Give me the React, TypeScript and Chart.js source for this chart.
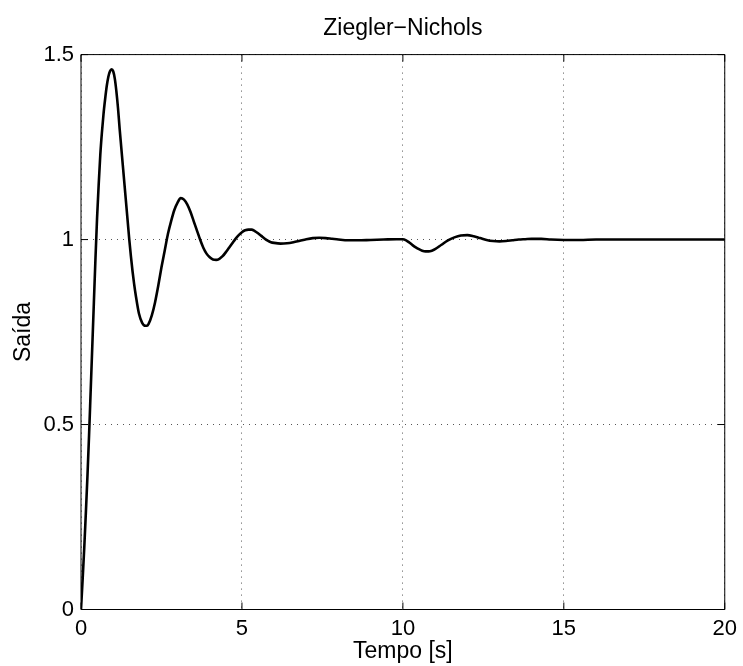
import React, { useEffect, useRef } from "react";
import { Chart, registerables } from "chart.js";

Chart.register(...registerables);

const chartTitle = "Ziegler\u2212Nichols";
const xLabel = "Tempo [s]";
const yLabel = "Saída";
const xTicks = [0, 5, 10, 15, 20];
const yTicks = [0, 0.5, 1, 1.5];

const times = [
  0, 0.05, 0.1, 0.15, 0.2, 0.25, 0.3, 0.35, 0.4, 0.45, 0.5, 0.55, 0.6, 0.65, 0.7, 0.75, 0.8, 0.85, 0.9, 0.95,
  1.0, 1.05, 1.1, 1.15, 1.2, 1.25, 1.3, 1.35, 1.4, 1.45, 1.5, 1.55, 1.6, 1.65, 1.7, 1.8, 1.9, 2.0, 2.05, 2.1,
  2.2, 2.3, 2.4, 2.5, 2.6, 2.7, 2.8, 2.9, 3.0, 3.1, 3.2, 3.3, 3.4, 3.5, 3.6, 3.7, 3.8, 3.9, 4.0, 4.1,
  4.2, 4.3, 4.4, 4.5, 4.6, 4.7, 4.8, 4.9, 5.0, 5.1, 5.2, 5.3, 5.4, 5.5, 5.6, 5.7, 5.8, 5.9, 6.0, 6.2,
  6.4, 6.6, 6.8, 7.0, 7.2, 7.4, 7.6, 7.8, 8.0, 8.3, 8.6, 9.0, 9.4, 9.8, 10.0, 10.1, 10.2, 10.3, 10.4, 10.5,
  10.6, 10.7, 10.8, 10.9, 11.0, 11.2, 11.4, 11.6, 11.8, 12.0, 12.2, 12.4, 12.6, 12.8, 13.0, 13.2, 13.4, 13.6, 13.8, 14.0,
  14.3, 14.6, 15.0, 15.5, 16.0, 17.0, 18.0, 19.0, 20.0,
];

const output = [
  0, 0.08, 0.165, 0.26, 0.36, 0.47, 0.59, 0.71, 0.83, 0.95, 1.06, 1.15, 1.23, 1.29, 1.34, 1.38, 1.415, 1.44, 1.455, 1.46,
  1.455, 1.435, 1.4, 1.355, 1.3, 1.25, 1.2, 1.15, 1.1, 1.05, 1.0, 0.955, 0.915, 0.88, 0.85, 0.8, 0.775, 0.767, 0.767, 0.772,
  0.795, 0.83, 0.875, 0.925, 0.97, 1.015, 1.05, 1.08, 1.1, 1.112, 1.108, 1.095, 1.075, 1.05, 1.025, 1.0, 0.978, 0.962, 0.952, 0.946,
  0.945, 0.948, 0.955, 0.966, 0.978, 0.99, 1.002, 1.012, 1.02, 1.025, 1.027, 1.027, 1.023, 1.017, 1.01, 1.003, 0.997, 0.993, 0.991, 0.989,
  0.99, 0.993, 0.997, 1.001, 1.004, 1.005, 1.004, 1.002, 1.0, 0.998, 0.998, 0.999, 1.0, 1.001, 1.001, 0.998, 0.992, 0.985, 0.979, 0.974,
  0.97, 0.968, 0.968, 0.97, 0.974, 0.986, 0.998, 1.006, 1.011, 1.012, 1.009, 1.004, 0.999, 0.996, 0.995, 0.996, 0.998, 1.0, 1.001, 1.002,
  1.002, 1.0, 0.999, 0.999, 1.0, 1.0, 1.0, 1.0, 1.0,
];

const FONT = "'Liberation Sans', Arial, Helvetica, sans-serif";

const framePlugin = {
  id: "matlabFrame",
  afterDatasetsDraw(chart: any) {
    const { ctx, chartArea } = chart;
    const { left, right, top, bottom } = chartArea;
    const tl = 7;
    ctx.save();
    ctx.strokeStyle = "#000";
    ctx.lineWidth = 1;
    ctx.setLineDash([]);
    ctx.beginPath();
    ctx.rect(left, top, right - left, bottom - top);
    ctx.stroke();
    const xs = chart.scales.x;
    const ys = chart.scales.y;
    ctx.beginPath();
    xTicks.forEach((v) => {
      const px = xs.getPixelForValue(v);
      ctx.moveTo(px, bottom);
      ctx.lineTo(px, bottom - tl);
      ctx.moveTo(px, top);
      ctx.lineTo(px, top + tl);
    });
    yTicks.forEach((v) => {
      const py = ys.getPixelForValue(v);
      ctx.moveTo(left, py);
      ctx.lineTo(left + tl, py);
      ctx.moveTo(right, py);
      ctx.lineTo(right - tl, py);
    });
    ctx.stroke();
    ctx.restore();
  },
};

export default function App() {
  const ref = useRef<HTMLCanvasElement | null>(null);

  useEffect(() => {
    if (!ref.current) return;
    const data = times.map((t, i) => ({ x: t, y: output[i] }));
    const chart = new Chart(ref.current, {
      type: "line",
      data: {
        datasets: [
          {
            data,
            borderColor: "#000",
            borderWidth: 2.6,
            pointRadius: 0,
            cubicInterpolationMode: "monotone",
            fill: false,
          },
        ],
      },
      options: {
        responsive: false,
        animation: false,
        layout: { padding: { left: 0, right: 16, top: 0, bottom: 0 } },
        plugins: {
          legend: { display: false },
          tooltip: { enabled: false },
          title: {
            display: true,
            fullSize: false,
            text: chartTitle,
            color: "#000",
            font: { family: FONT, size: 23, weight: "normal" as any, lineHeight: 1.2 },
            padding: { top: 15, bottom: 12 },
          },
        },
        scales: {
          x: {
            type: "linear",
            min: 0,
            max: 20,
            afterBuildTicks: (scale: any) => {
              scale.ticks = xTicks.map((v) => ({ value: v }));
            },
            afterFit: (scale: any) => {
              scale.height = 56.5;
            },
            ticks: {
              color: "#000",
              padding: 6,
              maxRotation: 0,
              font: { family: FONT, size: 22 },
              callback: (v: any) => String(v),
            },
            grid: { color: "#555", lineWidth: 1, drawTicks: false },
            border: { display: false, dash: [1, 5] },
            title: {
              display: true,
              text: xLabel,
              color: "#000",
              font: { family: FONT, size: 23, lineHeight: 1.2 },
              padding: { top: 0, bottom: 1 },
            },
          },
          y: {
            type: "linear",
            min: 0,
            max: 1.5,
            afterBuildTicks: (scale: any) => {
              scale.ticks = yTicks.map((v) => ({ value: v }));
            },
            afterFit: (scale: any) => {
              scale.width = 81;
            },
            ticks: {
              color: "#000",
              padding: 7,
              font: { family: FONT, size: 22 },
              callback: (v: any) => String(v),
            },
            grid: { color: "#555", lineWidth: 1, drawTicks: false },
            border: { display: false, dash: [1, 5] },
            title: {
              display: true,
              text: yLabel,
              color: "#000",
              font: { family: FONT, size: 23, lineHeight: 1.2 },
              padding: { top: 10, bottom: 0 },
            },
          },
        },
      },
      plugins: [framePlugin],
    });
    return () => chart.destroy();
  }, []);

  return (
    <div style={{ position: "absolute", left: 0, top: 0, width: 743, height: 666, background: "#fff" }}>
      <canvas ref={ref} width={743} height={666} />
    </div>
  );
}
